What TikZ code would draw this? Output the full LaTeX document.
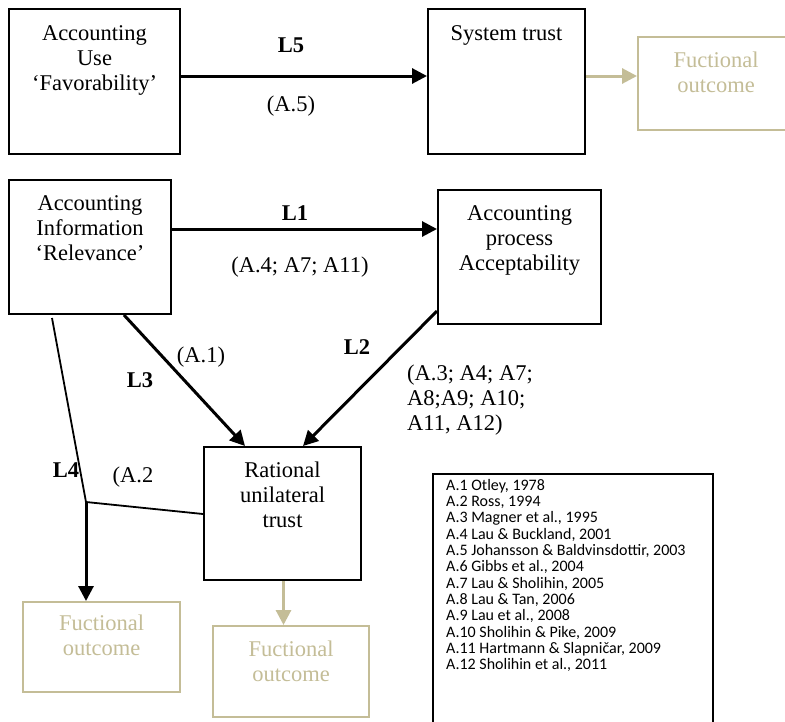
\documentclass[tikz,border=0pt]{standalone}
\usepackage{fontspec}
\setmainfont{Liberation Serif}
\newfontfamily\reffont{Carlito}
\usetikzlibrary{arrows.meta,calc}
\definecolor{tan}{RGB}{196,189,151}
\tikzset{
  box/.style={draw=black, line width=2pt, rectangle, inner sep=0pt, anchor=north west},
  outbox/.style={draw=tan, line width=2pt, rectangle, inner sep=0pt, anchor=north west},
  boxtext/.style={font=\fontsize{22.5}{25}\selectfont, align=center, inner sep=0pt, anchor=north},
  outtext/.style={boxtext, text=tan},
  link/.style={line width=3pt, -{Triangle[length=15pt,width=15pt]}},
  thinlink/.style={line width=1.8pt},
  outlink/.style={draw=tan, line width=3pt, -{Triangle[length=15pt,width=15pt]}},
  lab/.style={font=\fontsize{22.5}{25}\selectfont\bfseries, inner sep=0pt},
  cite/.style={font=\fontsize{22.5}{25}\selectfont, inner sep=0pt},
}
\begin{document}
\begin{tikzpicture}[x=1pt,y=-1pt]
\clip (0,0) rectangle (785,721);
\fill[white] (0,0) rectangle (785,721);

% upper row
\node[box, minimum width=171pt, minimum height=145pt] (use) at (8,8) {};
\node[boxtext] (usetxt) at ($(use.north)+(0,17)$) {Accounting\\Use\\‘Favorability’};
\node[box, minimum width=157pt, minimum height=145pt] (sys) at (427,8) {};
\node[boxtext] (systxt) at ($(sys.north)+(0,17)$) {System trust};
\node[outbox, minimum width=160pt, minimum height=93pt] (fo1) at (637,36) {};
\node[outtext] (fo1txt) at (716,52) {Fuctional\\outcome};

\coordinate (l5s) at ($(use.north east)+(0,68)$);
\draw[link] (l5s) -- (l5s -| sys.west);
\coordinate (s5) at ($(sys.north east)+(0,68)$);
\draw[outlink] (s5) -- (s5 -| fo1.west);
\node[lab] (l5) at (291,45) {L5};
\node[cite] (a5) at (291,106) {(A.5)};

% middle and lower part
\node[box, minimum width=162pt, minimum height=134pt] (info) at (8,179) {};
\node[boxtext] (infotxt) at ($(info.north)+(0,16)$) {Accounting\\Information\\‘Relevance’};
\node[box, minimum width=163pt, minimum height=134pt] (proc) at (437,189) {};
\node[boxtext] (proctxt) at ($(proc.north)+(0,16)$) {Accounting\\process\\Acceptability};
\node[box, minimum width=157pt, minimum height=133pt] (rat) at (203,446) {};
\node[boxtext] (rattxt) at ($(rat.north)+(0,16)$) {Rational\\unilateral\\trust};
\node[outbox, minimum width=157pt, minimum height=90pt] (fol) at (22,601) {};
\node[outtext] (foltxt) at ($(fol.north)+(0,14)$) {Fuctional\\outcome};
\node[outbox, minimum width=156pt, minimum height=91pt] (fom) at (212,625) {};
\node[outtext] (fomtxt) at ($(fom.north)+(0,16)$) {Fuctional\\outcome};

% L1
\coordinate (l1s) at ($(info.north east)+(0,50)$);
\draw[link] (l1s) -- (l1s -| proc.west);
\node[lab] (l1) at (295,213) {L1};
\node[cite] (a4) at (300,267) {(A.4; A7; A11)};

% L3 and L2
\coordinate (l3s) at ($(info.south west)+(116,0)$);
\coordinate (l3e) at ($(rat.north west)+(42,0)$);
\draw[link] (l3s) -- (l3e);
\coordinate (l2s) at ($(proc.north west)+(0,122)$);
\coordinate (l2e) at ($(rat.north west)+(100,0)$);
\draw[link] (l2s) -- (l2e);
\node[lab] (l3) at (140,380) {L3};
\node[cite] (a1) at (201,357) {(A.1)};
\node[lab] (l2) at (357,347) {L2};
\node[cite, align=left, anchor=north west] (a3) at (407,365) {(A.3; A4; A7;\\A8;A9; A10;\\A11, A12)};

% L4
\coordinate (l4s) at ($(info.south west)+(44,3)$);
\coordinate (junc) at (86,502);
\draw[thinlink] (l4s) -- (junc) -- ($(rat.north west)+(0,68)$);
\draw[link] (junc) -- (junc |- fol.north);
\node[lab] (l4) at (66,470) {L4};
\node[cite] (a2) at (133,477) {(A.2};
\coordinate (rs) at ($(rat.south)+(1,0)$);
\draw[outlink] (rs) -- (rs |- fom.north);

% references
\node[box, minimum width=280pt, minimum height=260pt] (refs) at (432,473) {};
\node[font=\reffont\fontsize{16}{16.3}\selectfont, align=left, anchor=north west, inner sep=0pt] (reflist) at (446,479) {%
A.1 Otley, 1978\\
A.2 Ross, 1994\\
A.3 Magner et al., 1995\\
A.4 Lau \& Buckland, 2001\\
A.5 Johansson \& Baldvinsdottir, 2003\\
A.6 Gibbs et al., 2004\\
A.7 Lau \& Sholihin, 2005\\
A.8 Lau \& Tan, 2006\\
A.9 Lau et al., 2008\\
A.10 Sholihin \& Pike, 2009\\
A.11 Hartmann \& Slapničar, 2009\\
A.12 Sholihin et al., 2011};
\end{tikzpicture}
\end{document}
